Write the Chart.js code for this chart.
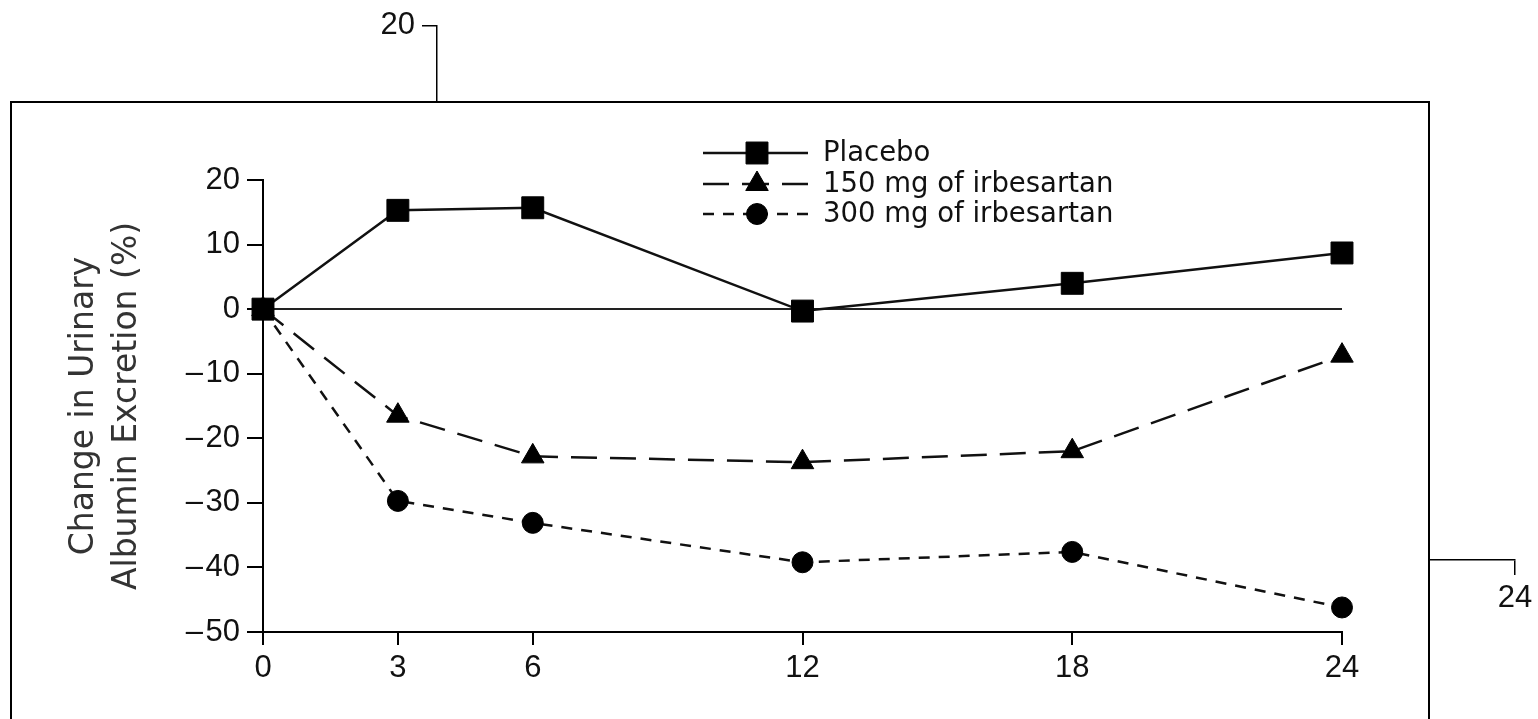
<!DOCTYPE html>
<html lang="en">
<head>
<meta charset="UTF-8">
<title>Change in Urinary Albumin Excretion</title>
<style>
    body {
        margin: 0;
        width: 1538px;
        height: 719px;
        overflow: hidden;
        position: relative;
        background: #fff;
    }
    #bgChart {
        position: absolute;
        left: 0;
        top: 0;
    }
    .box {
        position: absolute;
        left: 10px;
        top: 101px;
        width: 1416px;
        height: 640px;
        border: 2px solid #000;
        background: #fff;
    }
    #mainChart {
        position: absolute;
        left: 0;
        top: 0;
    }
</style>
</head>
<body>
    <canvas id="bgChart" width="1538" height="719"></canvas>
    <div class="box">
        <canvas id="mainChart" width="1416" height="616"></canvas>
    </div>

    <script src="https://cdn.jsdelivr.net/npm/chart.js"></script>
    <script>
        // months after start
        const months = [0, 3, 6, 12, 18, 24];
        const xTicks = [0, 3, 6, 12, 18, 24];

        // change in urinary albumin excretion (%)
        const placebo = [0, 15.3, 15.7, -0.3, 4.0, 8.7];
        const irb150 = [0, -16.5, -22.8, -23.7, -22.0, -7.2];
        const irb300 = [0, -29.7, -33.1, -39.2, -37.6, -46.2];

        const seriesNames = ['Placebo', '150 mg of irbesartan', '300 mg of irbesartan'];
        const yMin = -50;
        const yMax = 20;
        const yStep = 10;
        const yTitle = ['Change in Urinary', 'Albumin Excretion (%)'];

        // the figure behind the box only shows its top tick and right end
        const bgYMin = -30;

        const tickFont = { family: '"Liberation Sans", Arial, sans-serif', size: 31 };

        function fmtTick(v) {
            return v < 0 ? '\u2013\u200A' + Math.abs(v) : String(v);
        }

        function toPoints(vals) {
            return months.map((m, i) => ({ x: m, y: vals[i] }));
        }

        // legend drawn as line sample + marker + label, like the printed figure
        const lineLegend = {
            id: 'lineLegend',
            afterDatasetsDraw(chart) {
                const ctx = chart.ctx;
                const x0 = 691, x1 = 796, xm = 745, xt = 811;
                const rows = [50, 81, 111];
                chart.data.datasets.forEach((ds, i) => {
                    const y = rows[i];
                    ctx.save();
                    ctx.strokeStyle = ds.borderColor;
                    ctx.lineWidth = ds.borderWidth;
                    ctx.setLineDash(ds.borderDash || []);
                    ctx.beginPath();
                    ctx.moveTo(x0, y);
                    ctx.lineTo(xm, y);
                    ctx.stroke();
                    ctx.beginPath();
                    ctx.moveTo(x1, y);
                    ctx.lineTo(xm, y);
                    ctx.stroke();
                    ctx.setLineDash([]);
                    ctx.fillStyle = ds.pointBackgroundColor;
                    ctx.strokeStyle = ds.pointBorderColor;
                    ctx.lineWidth = 1;
                    Chart.helpers.drawPoint(ctx, {
                        pointStyle: ds.pointStyle,
                        radius: ds.pointRadius,
                        borderWidth: 1,
                        rotation: 0
                    }, xm, y);
                    ctx.fillStyle = '#111';
                    ctx.font = '27.5px "DejaVu Sans", sans-serif';
                    ctx.textBaseline = 'middle';
                    ctx.fillText(seriesNames[i], xt, y + 1);
                    ctx.restore();
                });
            }
        };

        // partly hidden figure behind the box
        new Chart(document.getElementById('bgChart'), {
            type: 'line',
            data: { datasets: [] },
            options: {
                responsive: false,
                animation: false,
                events: [],
                layout: { padding: { top: 23, right: 23 } },
                plugins: { legend: { display: false }, tooltip: { enabled: false } },
                scales: {
                    x: {
                        type: 'linear',
                        min: 0,
                        max: 24,
                        afterBuildTicks: s => { s.ticks = xTicks.map(v => ({ value: v })); },
                        afterFit: s => { s.height = 719 - 560; },
                        grid: { drawOnChartArea: false, tickLength: 15, color: '#000', lineWidth: 1.5 },
                        border: { color: '#000', width: 1.5 },
                        ticks: { font: tickFont, color: '#111', padding: 5, autoSkip: false, maxRotation: 0 }
                    },
                    y: {
                        min: bgYMin,
                        max: yMax,
                        afterFit: s => { s.width = 437; },
                        grid: { drawOnChartArea: false, tickLength: 15, color: '#000', lineWidth: 1.5 },
                        border: { color: '#000', width: 1.5 },
                        ticks: { stepSize: yStep, font: tickFont, color: '#111', padding: 7, callback: fmtTick }
                    }
                }
            }
        });

        new Chart(document.getElementById('mainChart'), {
            type: 'line',
            data: {
                datasets: [
                    {
                        label: seriesNames[0],
                        data: toPoints(placebo),
                        borderColor: '#111',
                        borderWidth: 2.5,
                        pointStyle: 'rect',
                        pointRadius: 15.5,
                        pointBackgroundColor: '#000',
                        pointBorderColor: '#000',
                        pointBorderWidth: 1,
                        tension: 0,
                        clip: false
                    },
                    {
                        label: seriesNames[1],
                        data: toPoints(irb150),
                        borderColor: '#111',
                        borderWidth: 2.5,
                        borderDash: [26, 13],
                        pointStyle: 'triangle',
                        pointRadius: 13,
                        pointBackgroundColor: '#000',
                        pointBorderColor: '#000',
                        pointBorderWidth: 1,
                        tension: 0,
                        clip: false
                    },
                    {
                        label: seriesNames[2],
                        data: toPoints(irb300),
                        borderColor: '#111',
                        borderWidth: 2.5,
                        borderDash: [11, 9],
                        pointStyle: 'circle',
                        pointRadius: 10.5,
                        pointBackgroundColor: '#000',
                        pointBorderColor: '#000',
                        pointBorderWidth: 1,
                        tension: 0,
                        clip: false
                    }
                ]
            },
            options: {
                responsive: false,
                animation: false,
                events: [],
                layout: { padding: { top: 77, right: 86, left: 0, bottom: 0 } },
                plugins: { legend: { display: false }, tooltip: { enabled: false } },
                scales: {
                    x: {
                        type: 'linear',
                        min: 0,
                        max: 24,
                        afterBuildTicks: s => { s.ticks = xTicks.map(v => ({ value: v })); },
                        afterFit: s => { s.height = 87; },
                        grid: { drawOnChartArea: false, tickLength: 13, color: '#000', lineWidth: 2 },
                        border: { color: '#000', width: 2 },
                        ticks: { font: tickFont, color: '#111', padding: 5, autoSkip: false, maxRotation: 0 }
                    },
                    y: {
                        min: yMin,
                        max: yMax,
                        afterFit: s => { s.width = 251; },
                        grid: {
                            drawOnChartArea: true,
                            tickLength: 16,
                            color: c => (c.tick && c.tick.value === 0) ? '#222' : 'rgba(0,0,0,0)',
                            tickColor: '#000',
                            lineWidth: 2
                        },
                        border: { color: '#000', width: 2 },
                        ticks: { stepSize: yStep, font: tickFont, color: '#111', padding: 7, callback: fmtTick },
                        title: {
                            display: true,
                            text: yTitle,
                            color: '#333',
                            font: { family: '"DejaVu Sans", sans-serif', size: 33, lineHeight: 1.3 },
                            padding: { top: 51, bottom: 0 }
                        }
                    }
                }
            },
            plugins: [lineLegend]
        });
    </script>
</body>
</html>
